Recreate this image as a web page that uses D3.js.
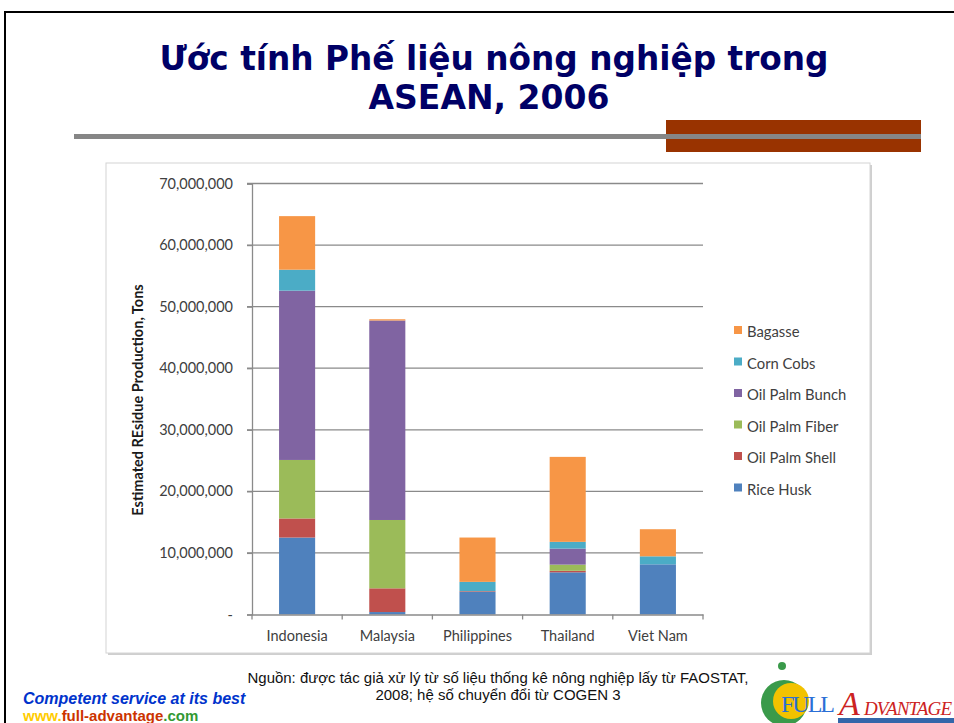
<!DOCTYPE html>
<html>
<head>
<meta charset="utf-8">
<script src="https://cdn.jsdelivr.net/npm/d3@7"></script>
<style>
  html, body { margin: 0; padding: 0; background: #fff; }
  svg { display: block; }
</style>
</head>
<body>
<div id="slide"></div>
<script>
const countries = ['Indonesia', 'Malaysia', 'Philippines', 'Thailand', 'Viet Nam'];
const residues = ['Rice Husk', 'Oil Palm Shell', 'Oil Palm Fiber', 'Oil Palm Bunch', 'Corn Cobs', 'Bagasse'];
const riceHusk     = [12500000,   400000, 3700000, 6850000, 8150000];
const oilPalmShell = [ 3100000,  3850000,  100000,  250000,       0];
const oilPalmFiber = [ 9500000, 11100000,       0, 1000000,       0];
const oilPalmBunch = [27500000, 32400000,       0, 2600000,       0];
const cornCobs     = [ 3400000,        0, 1500000, 1100000, 1300000];
const bagasse      = [ 8700000,   200000, 7200000,13800000, 4400000];
const yTicks = [0, 10000000, 20000000, 30000000, 40000000, 50000000, 60000000, 70000000];
const colors = ['#4F81BD', '#C0504D', '#9BBB59', '#8064A2', '#4BACC6', '#F79646'];

const W = 954, H = 723;
const svg = d3.select('#slide').append('svg').attr('width', W).attr('height', H);

// slide frame
svg.append('path').attr('d', `M5,${H} V12 H${W}`)
  .attr('fill', 'none').attr('stroke', '#000').attr('stroke-width', 2);

// title
const navy = '#000066';
svg.append('text').attr('x', 494).attr('y', 70).attr('text-anchor', 'middle')
  .attr('font-family', 'DejaVu Sans').attr('font-weight', 'bold').attr('font-size', 34)
  .attr('fill', navy).attr('textLength', 669).attr('lengthAdjust', 'spacingAndGlyphs')
  .text('Ước tính Phế liệu nông nghiệp trong');
svg.append('text').attr('x', 489).attr('y', 109).attr('text-anchor', 'middle')
  .attr('font-family', 'DejaVu Sans').attr('font-weight', 'bold').attr('font-size', 34)
  .attr('fill', navy).attr('textLength', 241).attr('lengthAdjust', 'spacingAndGlyphs')
  .text('ASEAN, 2006');

// decoration under title
svg.append('rect').attr('x', 666).attr('y', 120).attr('width', 255).attr('height', 32).attr('fill', '#993300');
svg.append('rect').attr('x', 74).attr('y', 134).attr('width', 847).attr('height', 5).attr('fill', '#868686');

// chart frame with slight shadow
svg.append('rect').attr('x', 108).attr('y', 165).attr('width', 764).attr('height', 490).attr('fill', '#cfcfcf');
svg.append('rect').attr('x', 106).attr('y', 163).attr('width', 764).attr('height', 490)
  .attr('fill', '#fff').attr('stroke', '#d4d4d4').attr('stroke-width', 1);

// scales
const x = d3.scaleBand().domain(countries).range([252, 703]).paddingInner(0.6).paddingOuter(0.3);
const xb = d3.scaleBand().domain(countries).range([252, 703]);
const y = d3.scaleLinear().domain([0, 70000000]).range([614.5, 183.5]);

const chart = svg.append('g').attr('font-family', 'Lato, "Open Sans", sans-serif');

// gridlines
chart.selectAll('line.grid').data(yTicks.slice(1)).enter().append('line')
  .attr('x1', 247).attr('x2', 703).attr('y1', d => y(d)).attr('y2', d => y(d))
  .attr('stroke', '#8a8a8a').attr('stroke-width', 1.3);

// y axis
const yAxis = d3.axisLeft(y).tickValues(yTicks).tickSize(5).tickPadding(14)
  .tickFormat(d => d === 0 ? '-' : d3.format(',')(d));
const gy = chart.append('g').attr('transform', 'translate(252,0)').call(yAxis);
gy.select('.domain').attr('stroke', '#8a8a8a').attr('stroke-width', 1.3);
gy.selectAll('.tick line').attr('stroke', '#8a8a8a').attr('stroke-width', 1.3);
gy.selectAll('.tick text').attr('fill', '#404040').attr('font-size', 14.5).attr('font-family', 'Lato, sans-serif');

// stacked bars
const rows = countries.map((c, i) => ({
  country: c,
  'Rice Husk': riceHusk[i], 'Oil Palm Shell': oilPalmShell[i], 'Oil Palm Fiber': oilPalmFiber[i],
  'Oil Palm Bunch': oilPalmBunch[i], 'Corn Cobs': cornCobs[i], 'Bagasse': bagasse[i]
}));
const series = d3.stack().keys(residues)(rows);
chart.selectAll('g.layer').data(series).enter().append('g')
  .attr('fill', (_, i) => colors[i])
  .selectAll('rect').data(d => d).enter().append('rect')
  .attr('x', d => x(d.data.country))
  .attr('width', x.bandwidth())
  .attr('y', d => y(d[1]))
  .attr('height', d => y(d[0]) - y(d[1]));

// x axis
const xAxis = d3.axisBottom(xb).tickSize(0).tickPadding(16);
const gx = chart.append('g').attr('transform', 'translate(0,614.5)').call(xAxis);
gx.select('.domain').attr('stroke', '#8a8a8a').attr('stroke-width', 1.3);
gx.selectAll('.tick text').attr('fill', '#404040').attr('font-size', 14.5).attr('font-family', 'Lato, sans-serif');
const bounds = countries.map(c => xb(c)).concat([xb.range()[1]]);
gx.selectAll('line.sep').data(bounds).enter().append('line')
  .attr('x1', d => d).attr('x2', d => d).attr('y1', 0).attr('y2', 5)
  .attr('stroke', '#8a8a8a').attr('stroke-width', 1.3);

// y axis title
chart.append('text').attr('transform', 'translate(143,400) rotate(-90)')
  .attr('text-anchor', 'middle').attr('font-size', 14.5).attr('font-weight', 'bold').attr('fill', '#1a1a1a')
  .text('Estimated REsidue Production, Tons');

// legend
const legendOrder = residues.slice().reverse();
const lg = chart.append('g').selectAll('g').data(legendOrder).enter().append('g')
  .attr('transform', (_, i) => `translate(734,${337 + i * 31.5})`);
lg.append('rect').attr('x', 0).attr('y', -11).attr('width', 8).attr('height', 8)
  .attr('fill', d => colors[residues.indexOf(d)]);
lg.append('text').attr('x', 13).attr('y', 0).attr('font-size', 14.8).attr('fill', '#404040').text(d => d);

// source note
const note = svg.append('g').attr('font-family', '"Liberation Sans", Arial, sans-serif')
  .attr('font-size', 15).attr('fill', '#111').attr('text-anchor', 'middle');
note.append('text').attr('x', 498).attr('y', 683).attr('textLength', 501).attr('lengthAdjust', 'spacingAndGlyphs')
  .text('Nguồn:  được  tác giả xử lý từ số liệu thống kê nông nghiệp lấy từ FAOSTAT,');
note.append('text').attr('x', 498).attr('y', 700).text('2008; hệ số chuyển đổi từ COGEN 3');

// footer left
svg.append('text').attr('x', 23).attr('y', 704).attr('font-family', '"Liberation Sans", Arial, sans-serif')
  .attr('font-size', 16).attr('font-weight', 'bold').attr('font-style', 'italic').attr('fill', '#0033cc')
  .text('Competent service at its best');
const url = svg.append('text').attr('x', 23).attr('y', 721).attr('font-family', '"Liberation Sans", Arial, sans-serif')
  .attr('font-size', 15).attr('font-weight', 'bold');
url.append('tspan').attr('fill', '#ffcc00').text('www.');
url.append('tspan').attr('fill', '#cc3300').text('full-advantage');
url.append('tspan').attr('fill', '#339933').text('.com');

// logo
const logo = svg.append('g');
logo.append('circle').attr('cx', 784).attr('cy', 703).attr('r', 23).attr('fill', '#3a9a4a');
logo.append('circle').attr('cx', 791).attr('cy', 701).attr('r', 18).attr('fill', '#f2c200');
logo.append('circle').attr('cx', 782).attr('cy', 666).attr('r', 4).attr('fill', '#3a9a4a');
logo.append('text').attr('x', 781).attr('y', 712).attr('font-family', '"Liberation Serif", serif')
  .attr('font-size', 24).attr('fill', '#2a6fd6').attr('textLength', 54).text('FULL');
logo.append('text').attr('x', 839).attr('y', 715).attr('font-family', '"Liberation Serif", serif')
  .attr('font-size', 34).attr('font-style', 'italic').attr('fill', '#cc2222').text('A');
logo.append('text').attr('x', 864).attr('y', 715).attr('font-family', '"Liberation Serif", serif')
  .attr('font-size', 19).attr('font-style', 'italic').attr('fill', '#cc2222').attr('textLength', 88).text('DVANTAGE');
logo.append('rect').attr('x', 838).attr('y', 718).attr('width', 116).attr('height', 5).attr('fill', '#3366aa');
</script>
</body>
</html>
